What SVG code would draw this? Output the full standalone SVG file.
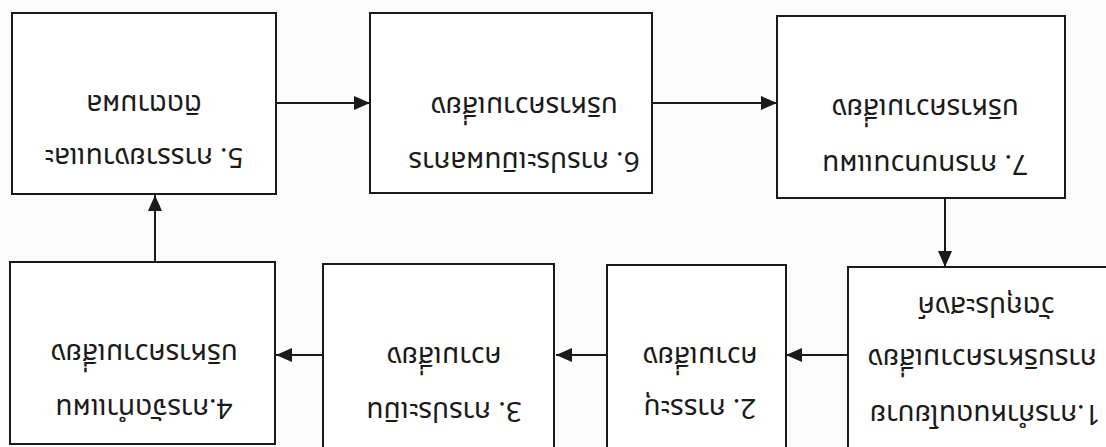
<svg xmlns="http://www.w3.org/2000/svg" width="1106" height="447" viewBox="0 0 1106 447">
<defs>
<marker id="ah" viewBox="0 0 16 14" refX="16" refY="7" markerWidth="16" markerHeight="14" markerUnits="userSpaceOnUse" orient="auto">
<path d="M0,0 L16,7 L0,14 Z" fill="#1a1a1a"/>
</marker>
<style>
.box{fill:#ffffff;stroke:#1a1a1a;stroke-width:2}
.lbl{font-family:"Noto Sans Thai","Noto Sans","DejaVu Sans",sans-serif;font-size:28px;fill:#1a1a1a;text-anchor:middle;dominant-baseline:central}
.con{stroke:#1a1a1a;stroke-width:2;fill:none;marker-end:url(#ah)}
</style>
</defs>
<rect width="1106" height="447" fill="#fbfbfb"/>
<g id="connectors">
<line class="con" x1="276" y1="103" x2="370" y2="103"/>
<line class="con" x1="652" y1="103" x2="777" y2="103"/>
<line class="con" x1="945" y1="198" x2="945" y2="267"/>
<line class="con" x1="848" y1="355" x2="786" y2="355"/>
<line class="con" x1="607" y1="355" x2="556" y2="355"/>
<line class="con" x1="323" y1="355" x2="276" y2="355"/>
<line class="con" x1="155" y1="262" x2="155" y2="195"/>
</g>
<g id="node5">
<rect class="box" x="12" y="13" width="264" height="181"/>
<text class="lbl" x="144" y="156" transform="rotate(180 144 156)">5. การรายงานและ</text>
<text class="lbl" x="144" y="103" transform="rotate(180 144 103)">ติดตามผล</text>
</g>
<g id="node6">
<rect class="box" x="370" y="13" width="282" height="180"/>
<text class="lbl" x="524" y="160" transform="rotate(180 524 160)">6. การประเมินผลการ</text>
<text class="lbl" x="524" y="105" transform="rotate(180 524 105)">บริหารความเสี่ยง</text>
</g>
<g id="node7">
<rect class="box" x="777" y="16" width="288" height="182"/>
<text class="lbl" x="925" y="163" transform="rotate(180 925 163)">7. การทบทวนแผน</text>
<text class="lbl" x="925" y="107" transform="rotate(180 925 107)">บริหารความเสี่ยง</text>
</g>
<g id="node4">
<rect class="box" x="10" y="262" width="265" height="182"/>
<text class="lbl" x="144" y="407" transform="rotate(180 144 407)">4.การจัดทำแผน</text>
<text class="lbl" x="144" y="352" transform="rotate(180 144 352)">บริหารความเสี่ยง</text>
</g>
<g id="node3">
<rect class="box" x="323" y="264" width="231" height="190"/>
<text class="lbl" x="444" y="410" transform="rotate(180 444 410)">3. การประเมิน</text>
<text class="lbl" x="444" y="355" transform="rotate(180 444 355)">ความเสี่ยง</text>
</g>
<g id="node2">
<rect class="box" x="607" y="265" width="179" height="190"/>
<text class="lbl" x="700" y="407" transform="rotate(180 700 407)">2. การระบุ</text>
<text class="lbl" x="700" y="355" transform="rotate(180 700 355)">ความเสี่ยง</text>
</g>
<g id="node1">
<rect class="box" x="848" y="267" width="270" height="190"/>
<text class="lbl" x="985" y="413" transform="rotate(180 985 413)">1.การกำหนดนโยบาย</text>
<text class="lbl" x="982" y="357" transform="rotate(180 982 357)">การบริหารความเสี่ยง</text>
<text class="lbl" x="986" y="305" transform="rotate(180 986 305)">วัตถุประสงค์</text>
</g>
</svg>
